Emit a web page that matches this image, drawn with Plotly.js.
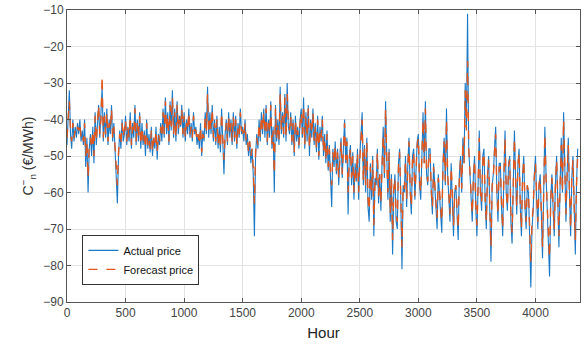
<!DOCTYPE html>
<html>
<head>
<meta charset="utf-8">
<script src="https://cdn.plot.ly/plotly-3.0.1.min.js"></script>
<style>html,body{margin:0;padding:0;background:#fff;}#chart{width:587px;height:356px;}</style>
</head>
<body>
<div id="chart"></div>
<script>
// Hours sampled every 10 h (0 .. 4360)
const hourStep = 10;
const actualPrice = [
  -47,-38,-32,-44,-48,-40,-46,-42,-45,-41,
  -44,-40,-46,-43,-47,-40,-53,-45,-60,-48,
  -44,-50,-42,-52,-38,-47,-40,-36,-45,-39,
  -31,-46,-38,-45,-37,-47,-40,-44,-36,-46,
  -41,-48,-55,-63,-50,-43,-48,-40,-46,-44,
  -39,-47,-42,-46,-38,-48,-41,-45,-36,-47,
  -40,-46,-38,-48,-41,-47,-43,-50,-40,-48,
  -44,-49,-42,-50,-45,-48,-42,-51,-44,-47,
  -41,-46,-37,-45,-34,-44,-38,-47,-35,-43,
  -32,-45,-37,-46,-35,-44,-39,-42,-36,-45,
  -38,-46,-40,-44,-37,-45,-41,-46,-38,-44,
  -42,-47,-44,-48,-41,-50,-43,-46,-38,-44,
  -31,-45,-38,-44,-36,-46,-40,-47,-39,-48,
  -42,-49,-37,-46,-55,-44,-40,-47,-38,-45,
  -40,-47,-38,-46,-39,-48,-41,-45,-37,-44,
  -42,-46,-40,-47,-44,-50,-46,-52,-48,-55,
  -72,-50,-44,-48,-40,-46,-38,-44,-37,-45,
  -36,-47,-40,-45,-35,-48,-42,-60,-36,-46,
  -40,-47,-31,-44,-38,-45,-33,-46,-30,-42,
  -44,-38,-47,-40,-50,-39,-46,-42,-48,-40,
  -37,-45,-34,-48,-38,-46,-36,-50,-40,-45,
  -37,-47,-41,-49,-39,-51,-42,-46,-39,-50,
  -44,-52,-43,-54,-47,-56,-64,-48,-53,-46,
  -55,-48,-58,-50,-45,-56,-47,-40,-52,-45,
  -66,-50,-47,-58,-49,-62,-52,-57,-48,-62,
  -50,-44,-38,-58,-47,-60,-45,-64,-68,-52,
  -62,-50,-72,-56,-58,-48,-63,-55,-65,-52,
  -42,-56,-35,-50,-62,-48,-68,-55,-77,-60,
  -55,-68,-70,-52,-48,-62,-81,-58,-60,-50,
  -64,-52,-45,-60,-66,-50,-48,-62,-55,-46,
  -44,-58,-62,-46,-38,-52,-35,-55,-58,-48,
  -48,-60,-66,-52,-57,-62,-70,-55,-60,-66,
  -71,-52,-45,-58,-37,-55,-62,-68,-52,-60,
  -72,-60,-58,-66,-73,-55,-50,-60,-45,-52,
  -30,-42,-11,-48,-55,-62,-68,-55,-50,-64,
  -72,-58,-43,-60,-65,-50,-48,-62,-70,-55,
  -50,-65,-79,-58,-55,-48,-42,-60,-68,-52,
  -52,-64,-72,-55,-43,-60,-65,-52,-50,-68,
  -74,-58,-43,-56,-66,-52,-48,-64,-72,-55,
  -50,-64,-70,-58,-60,-72,-86,-70,-65,-55,
  -50,-62,-70,-58,-55,-66,-78,-60,-42,-55,
  -66,-74,-83,-62,-55,-64,-72,-58,-50,-62,
  -75,-58,-45,-60,-38,-52,-68,-55,-45,-60,
  -72,-56,-50,-64,-77,-58,-48
];
const forecastPrice = [
  -45,-39,-35,-43,-46,-41,-45,-43,-44,-42,
  -43,-41,-45,-44,-46,-41,-50,-46,-56,-47,
  -45,-48,-43,-50,-39,-46,-41,-36,-44,-40,
  -28,-45,-39,-44,-38,-46,-41,-43,-37,-45,
  -42,-47,-52,-58,-49,-44,-47,-41,-45,-43,
  -40,-46,-42,-45,-39,-47,-42,-44,-37,-46,
  -41,-45,-39,-47,-42,-46,-44,-48,-41,-47,
  -45,-48,-43,-49,-45,-47,-43,-49,-44,-46,
  -42,-45,-38,-44,-35,-43,-39,-46,-36,-42,
  -34,-44,-38,-45,-36,-43,-40,-42,-37,-44,
  -39,-45,-41,-43,-38,-44,-42,-45,-39,-43,
  -43,-46,-44,-47,-42,-49,-44,-45,-39,-43,
  -33,-44,-39,-43,-37,-45,-41,-46,-40,-47,
  -43,-48,-38,-45,-51,-44,-41,-46,-39,-44,
  -41,-46,-39,-45,-40,-47,-42,-44,-38,-43,
  -43,-45,-41,-46,-45,-49,-46,-50,-48,-53,
  -63,-49,-45,-47,-41,-45,-39,-43,-38,-44,
  -37,-46,-41,-44,-36,-47,-43,-55,-37,-45,
  -41,-46,-33,-43,-39,-44,-34,-45,-33,-41,
  -43,-39,-46,-41,-49,-40,-45,-43,-47,-41,
  -38,-44,-36,-47,-39,-45,-37,-48,-41,-44,
  -38,-46,-42,-48,-40,-50,-43,-45,-40,-49,
  -45,-51,-44,-53,-48,-55,-58,-49,-52,-47,
  -54,-49,-56,-51,-46,-55,-48,-41,-51,-46,
  -60,-51,-48,-56,-50,-60,-53,-56,-49,-60,
  -51,-45,-40,-57,-48,-58,-46,-62,-65,-53,
  -60,-51,-69,-56,-57,-49,-61,-55,-63,-53,
  -44,-55,-37,-51,-60,-49,-66,-56,-73,-59,
  -56,-66,-68,-53,-49,-61,-75,-58,-59,-51,
  -62,-53,-46,-59,-64,-51,-49,-61,-55,-47,
  -45,-57,-60,-47,-40,-52,-37,-55,-57,-49,
  -49,-59,-64,-53,-57,-61,-67,-56,-59,-64,
  -68,-53,-46,-57,-40,-55,-61,-66,-53,-59,
  -69,-60,-58,-65,-70,-56,-51,-59,-46,-52,
  -32,-43,-24,-48,-55,-60,-66,-56,-51,-63,
  -69,-58,-45,-60,-63,-51,-49,-61,-68,-56,
  -51,-64,-75,-58,-56,-49,-44,-59,-66,-53,
  -53,-63,-70,-56,-45,-59,-64,-53,-51,-66,
  -71,-58,-45,-56,-64,-53,-49,-63,-70,-56,
  -51,-63,-68,-58,-60,-69,-79,-68,-64,-56,
  -52,-61,-68,-58,-56,-65,-75,-60,-44,-56,
  -65,-72,-78,-62,-56,-63,-70,-58,-51,-61,
  -72,-58,-47,-60,-40,-53,-66,-55,-47,-60,
  -70,-56,-51,-63,-73,-58,-50
];
const hours = actualPrice.map((_, i) => i * hourStep);
const xTicks = [0, 500, 1000, 1500, 2000, 2500, 3000, 3500, 4000];
const yTicks = [-90, -80, -70, -60, -50, -40, -30, -20, -10];

const font = 'Liberation Sans, Arial, sans-serif';
const traces = [
  {x: hours, y: actualPrice, type: 'scatter', mode: 'lines', name: 'Actual price',
   line: {color: '#1b79c6', width: 1.1}},
  {x: hours, y: forecastPrice, type: 'scatter', mode: 'lines', name: 'Forecast price',
   line: {color: '#e2561c', width: 1.4, dash: 'dash'}}
];
const axisCommon = {
  showgrid: true, gridcolor: '#e3e3e3', gridwidth: 1,
  showline: true, linecolor: '#555', linewidth: 1, mirror: 'ticks',
  ticks: 'inside', ticklen: 4, tickcolor: '#555',
  zeroline: false, tickfont: {family: font, size: 12, color: '#444'}
};
const layout = {
  width: 587, height: 356,
  margin: {l: 67, r: 7, t: 10, b: 54},
  paper_bgcolor: '#fff', plot_bgcolor: '#fff',
  showlegend: true,
  legend: {x: 0.03, y: 0.23, xanchor: 'left', yanchor: 'top',
    bordercolor: '#333', borderwidth: 1, bgcolor: '#fff',
    font: {family: font, size: 11, color: '#111'}, tracegroupgap: 6},
  xaxis: Object.assign({}, axisCommon, {range: [0, 4380], tickvals: xTicks,
    title: {text: 'Hour', font: {family: font, size: 15, color: '#222'}, standoff: 8}}),
  yaxis: Object.assign({}, axisCommon, {range: [-90, -10], tickvals: yTicks,
    title: {text: 'C<sup>−</sup><sub>n</sub> (€/MWh)', font: {family: font, size: 14, color: '#333'}, standoff: 6}})
};
Plotly.newPlot('chart', traces, layout, {displayModeBar: false, staticPlot: true});
</script>
</body>
</html>
